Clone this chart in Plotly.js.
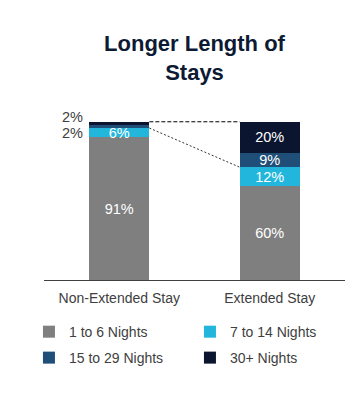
<!DOCTYPE html>
<html><head><meta charset="utf-8">
<script src="https://cdn.plot.ly/plotly-3.0.1.min.js"></script>
<style>html,body{margin:0;padding:0;background:#fff}</style>
</head><body><div id="chart" style="width:364px;height:398px"></div>
<script>
const categories = ['Non-Extended Stay', 'Extended Stay'];
const seriesNames = ['1 to 6 Nights', '7 to 14 Nights', '15 to 29 Nights', '30+ Nights'];
const nights1to6 = [91, 60];
const nights7to14 = [6, 12];
const nights15to29 = [2, 9];
const nights30plus = [2, 20];

const seriesValues = [nights1to6, nights7to14, nights15to29, nights30plus];
const colors = ['#7f7f7f', '#22b6dd', '#1f4e79', '#0b1530'];
const legendFor = ['legend', 'legend', 'legend2', 'legend2'];
const FONT = 'Arial, "Liberation Sans", sans-serif';
const BW = 0.4;

const traces = seriesValues.map((vals, i) => ({
  type: 'bar',
  name: seriesNames[i],
  x: categories,
  y: vals,
  width: BW,
  marker: {color: colors[i], line: {width: 0}},
  text: vals.map(v => v >= 5 ? v + '%' : ''),
  textposition: 'inside',
  insidetextanchor: 'middle',
  constraintext: 'none',
  textfont: {family: FONT, size: 14.5, color: '#ffffff'},
  hoverinfo: 'skip',
  legend: legendFor[i]
}));

// cumulative tops per category
const cum = categories.map((c, j) => {
  let s = 0; return seriesValues.map(v => (s += v[j]));
});

// small-value labels outside the bar
const annotations = [];
const smallShift = [0, 0, -5, 5];
seriesValues.forEach((vals, i) => {
  vals.forEach((v, j) => {
    if (v < 5) {
      const top = cum[j][i];
      const base = top - v;
      annotations.push({
        x: j - BW / 2, y: i === seriesValues.length - 1 ? top : base,
        xref: 'x', yref: 'y', text: v + '%', showarrow: false,
        xanchor: 'right', yanchor: 'middle', xshift: -4, yshift: smallShift[i],
        font: {family: FONT, size: 14.5, color: '#404040'}
      });
    }
  });
});

const topIdx = seriesValues.length - 1;
const shapes = [
  {type: 'line', xref: 'x', yref: 'y', x0: BW / 2, x1: 1 - BW / 2,
   y0: cum[0][topIdx], y1: cum[1][topIdx], line: {color: '#000', width: 1, dash: '4px,2px'}},
  {type: 'line', xref: 'x', yref: 'y', x0: BW / 2, x1: 1 - BW / 2,
   y0: cum[0][1], y1: cum[1][1], line: {color: '#333', width: 1, dash: '2px,2px'}}
];

const legendBase = {
  orientation: 'h', x: -0.05, xanchor: 'left', yanchor: 'middle',
  entrywidth: 116, entrywidthmode: 'pixels',
  font: {family: FONT, size: 14, color: '#404040'},
  bgcolor: 'rgba(0,0,0,0)', traceorder: 'normal'
};

const layout = {
  width: 364, height: 398,
  margin: {l: 44, r: 19, t: 92, b: 118},
  paper_bgcolor: '#fff', plot_bgcolor: '#fff',
  barmode: 'stack',
  title: {text: '<b>Longer Length of<br>Stays</b>', x: 0.5, xref: 'paper', xanchor: 'center',
          y: 0.872, yref: 'container', yanchor: 'top',
          font: {family: FONT, size: 22, color: '#0d1a33'}},
  xaxis: {type: 'category', range: [-0.5, 1.5], showline: true, linecolor: '#404040', linewidth: 1,
          ticks: '', showgrid: false, zeroline: false, ticklabelstandoff: 5,
          tickfont: {family: FONT, size: 14, color: '#404040'}},
  yaxis: {range: [0, 120], visible: false, showgrid: false, zeroline: false},
  showlegend: true,
  legend: Object.assign({}, legendBase, {y: -0.277}),
  legend2: Object.assign({}, legendBase, {y: -0.415}),
  annotations: annotations,
  shapes: shapes,
  font: {family: FONT}
};

Plotly.newPlot('chart', traces, layout, {displayModeBar: false, staticPlot: true});
</script></body></html>
